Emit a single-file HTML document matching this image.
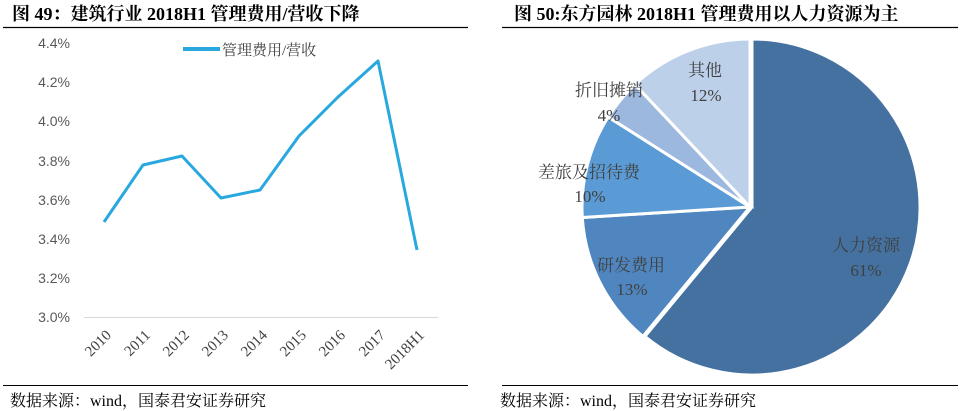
<!DOCTYPE html>
<html><head><meta charset="utf-8"><style>
body{margin:0;background:#fff;width:961px;height:411px;overflow:hidden}
svg{display:block}
.t{font-family:"Liberation Serif","Noto Serif CJK SC",serif;font-weight:bold;font-size:18px;fill:#000}
.ax{font-family:"Liberation Sans","Noto Sans CJK SC",sans-serif;font-size:14px;fill:#595959}
.s{font-family:"Liberation Serif","Noto Serif CJK SC",serif;font-size:16px;fill:#000}
.p{font-family:"Liberation Serif","Noto Serif CJK SC",serif;font-size:17px;fill:#404040;text-anchor:middle}
</style></head><body>
<svg width="961" height="411" xmlns="http://www.w3.org/2000/svg">
<text x="12" y="20" class="t">图 49：建筑行业 2018H1 管理费用/营收下降</text>
<line x1="3" y1="27.5" x2="468" y2="27.5" stroke="#000" stroke-width="1.2"/>
<g class="ax" text-anchor="end">
<text x="70" y="48">4.4%</text><text x="70" y="87">4.2%</text><text x="70" y="126">4.0%</text>
<text x="70" y="166">3.8%</text><text x="70" y="205">3.6%</text><text x="70" y="244">3.4%</text>
<text x="70" y="283">3.2%</text><text x="70" y="322">3.0%</text>
</g>
<line x1="84" y1="317.5" x2="438" y2="317.5" stroke="#d9d9d9"/>
<line x1="183" y1="49" x2="220" y2="49" stroke="#29a8df" stroke-width="4"/>
<text x="222" y="55" style="font-family:'Liberation Serif','Noto Serif CJK SC',serif;font-size:15px;fill:#404040">管理费用/营收</text>
<polyline fill="none" stroke="#29a8df" stroke-width="3" stroke-linejoin="round" points="104,222 143,165 182,156 221,198 260,190 299,136 338,97 378,61 417,250"/>
<g class="s" style="font-size:15px;fill:#404040" text-anchor="end">
<text transform="translate(112,336) rotate(-45)">2010</text>
<text transform="translate(151,336) rotate(-45)">2011</text>
<text transform="translate(190,336) rotate(-45)">2012</text>
<text transform="translate(229,336) rotate(-45)">2013</text>
<text transform="translate(268,336) rotate(-45)">2014</text>
<text transform="translate(307,336) rotate(-45)">2015</text>
<text transform="translate(346,336) rotate(-45)">2016</text>
<text transform="translate(386,336) rotate(-45)">2017</text>
<text transform="translate(425,336) rotate(-45)">2018H1</text>
</g>
<line x1="3" y1="385.5" x2="468" y2="385.5" stroke="#000" stroke-width="1"/>
<text x="10" y="406" class="s">数据来源：wind，国泰君安证券研究</text>

<text x="514" y="20" class="t">图 50:东方园林 2018H1 管理费用以人力资源为主</text>
<line x1="502" y1="27.5" x2="958" y2="27.5" stroke="#000" stroke-width="1.2"/>
<g stroke="#fff" stroke-width="3">
<path d="M752,207 L752,39 A168,168 0 1,1 644.9,336.4 Z" fill="#44719f"/>
<path d="M750,207 L642.9,336.4 A168,168 0 0,1 582.3,217.5 Z" fill="#4f86bf"/>
<path d="M750,207 L582.3,217.5 A168,168 0 0,1 608.2,117 Z" fill="#5b9bd5"/>
<path d="M750,207 L608.2,117 A168,168 0 0,1 635,84.5 Z" fill="#9db8de"/>
<path d="M750,207 L635,84.5 A168,168 0 0,1 750,39 Z" fill="#bdd0ea"/>
</g>
<text x="866" y="251" class="p">人力资源</text><text x="866" y="276" class="p">61%</text>
<text x="631" y="271" class="p">研发费用</text><text x="632" y="295" class="p">13%</text>
<text x="589" y="178" class="p">差旅及招待费</text><text x="590" y="202" class="p">10%</text>
<text x="609" y="96" class="p">折旧摊销</text><text x="609" y="121" class="p">4%</text>
<text x="705" y="76" class="p">其他</text><text x="706" y="101" class="p">12%</text>
<line x1="502" y1="385.5" x2="958" y2="385.5" stroke="#000" stroke-width="1"/>
<text x="500" y="406" class="s">数据来源：wind，国泰君安证券研究</text>
</svg>
</body></html>
